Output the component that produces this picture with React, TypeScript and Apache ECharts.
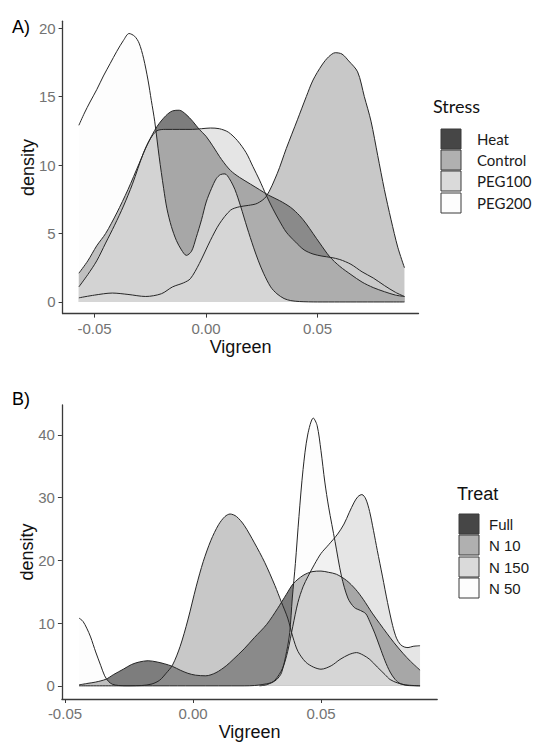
import React, { useEffect, useRef } from "react";
import * as echarts from "echarts";

type Pt = [number, number];

const FONT = "'Liberation Sans', Arial, sans-serif";
const FONT_LEG_A = "Lato, 'Liberation Sans', sans-serif";

// ---- legend / category names ----
const stressNames = ["Heat", "Control", "PEG100", "PEG200"];
const treatNames = ["Full", "N 10", "N 150", "N 50"];
// grey fill of each group (drawn with alpha 0.75, as in the ggplot original)
const fillGreys = [8, 150, 205, 252];
const FILL_ALPHA = 0.75;

// ---- tick labels ----
const xTicksA = [-0.05, 0, 0.05];
const yTicksA = [0, 5, 10, 15, 20];
const xTicksB = [-0.05, 0, 0.05];
const yTicksB = [0, 10, 20, 30, 40];

// ---- Panel A: density of Vigreen by Stress ----
const heatA: Pt[] = [
  [-0.057, 2.1], [-0.053, 3.0], [-0.049, 4.1], [-0.045, 5.0], [-0.04, 6.5], [-0.035, 8.2],
  [-0.03, 10.1], [-0.026, 11.6], [-0.022, 12.8], [-0.018, 13.6], [-0.015, 13.95], [-0.012, 14.0],
  [-0.009, 13.7], [-0.006, 13.2], [-0.003, 12.6], [0.0, 12.1], [0.003, 11.4], [0.007, 10.4],
  [0.011, 9.6], [0.015, 9.1], [0.02, 8.6], [0.024, 8.2], [0.028, 7.8], [0.033, 7.4], [0.038, 6.9],
  [0.042, 6.3], [0.045, 5.7], [0.048, 5.0], [0.051, 4.3], [0.0555, 3.3], [0.06, 2.6], [0.065, 2.0],
  [0.07, 1.45], [0.075, 1.05], [0.08, 0.75], [0.085, 0.5], [0.089, 0.4],
];
const controlA: Pt[] = [
  [-0.057, 0.3], [-0.05, 0.5], [-0.042, 0.65], [-0.035, 0.55], [-0.027, 0.4], [-0.02, 0.6],
  [-0.015, 1.1], [-0.01, 1.4], [-0.007, 1.7], [-0.003, 2.8], [0.002, 4.5], [0.006, 5.7],
  [0.011, 6.7], [0.015, 6.95], [0.019, 7.05], [0.023, 7.2], [0.027, 7.7], [0.032, 9.4],
  [0.036, 11.2], [0.041, 13.3], [0.045, 15.0], [0.048, 16.2], [0.052, 17.3], [0.055, 17.9],
  [0.058, 18.2], [0.061, 18.1], [0.064, 17.6], [0.068, 16.8], [0.071, 15.0], [0.074, 13.2],
  [0.077, 10.7], [0.08, 8.2], [0.083, 6.0], [0.086, 4.0], [0.089, 2.5],
];
const peg100A: Pt[] = [
  [-0.057, 1.1], [-0.053, 2.0], [-0.049, 3.0], [-0.045, 4.3], [-0.041, 5.6], [-0.037, 7.0],
  [-0.033, 8.6], [-0.028, 10.9], [-0.025, 11.9], [-0.022, 12.5], [-0.018, 12.6], [-0.012, 12.6],
  [-0.006, 12.6], [-0.002, 12.65], [0.002, 12.7], [0.006, 12.65], [0.01, 12.4], [0.014, 11.8],
  [0.018, 10.9], [0.021, 9.9], [0.024, 8.9], [0.027, 7.8], [0.03, 6.8], [0.033, 5.9],
  [0.036, 5.1], [0.04, 4.4], [0.044, 3.8], [0.048, 3.5], [0.052, 3.35], [0.056, 3.25],
  [0.06, 3.1], [0.065, 2.75], [0.07, 2.2], [0.075, 1.75], [0.08, 1.2], [0.085, 0.7], [0.089, 0.4],
];
const peg200A: Pt[] = [
  [-0.057, 12.9], [-0.0545, 13.8], [-0.052, 14.6], [-0.049, 15.5], [-0.046, 16.5], [-0.043, 17.4],
  [-0.04, 18.3], [-0.037, 19.1], [-0.0345, 19.6], [-0.032, 19.4], [-0.03, 18.9], [-0.028, 17.8],
  [-0.026, 16.2], [-0.0245, 14.7], [-0.023, 13.2], [-0.021, 10.6], [-0.019, 8.3], [-0.0175, 6.8],
  [-0.0155, 5.5], [-0.0133, 4.5], [-0.011, 3.8], [-0.0088, 3.4], [-0.0065, 3.7], [-0.0044, 4.7],
  [-0.002, 6.0], [0.0001, 7.3], [0.0025, 8.3], [0.0046, 9.0], [0.0065, 9.3], [0.0085, 9.35],
  [0.0105, 9.0], [0.013, 8.2], [0.0155, 7.0], [0.0185, 5.4], [0.0213, 4.0], [0.0235, 3.0],
  [0.0258, 2.1], [0.029, 1.1], [0.0318, 0.6], [0.035, 0.25], [0.038, 0.1], [0.042, 0.03],
  [0.05, 0], [0.06, 0], [0.07, 0], [0.08, 0], [0.089, 0],
];

// ---- Panel B: density of Vigreen by Treat ----
const fullB: Pt[] = [
  [-0.0445, 0.15], [-0.041, 0.4], [-0.038, 0.6], [-0.034, 1.05], [-0.031, 1.8], [-0.027, 2.7],
  [-0.024, 3.4], [-0.021, 3.8], [-0.0175, 4.0], [-0.014, 3.8], [-0.011, 3.5], [-0.008, 3.1],
  [-0.005, 2.5], [-0.002, 2.0], [0.001, 1.7], [0.005, 1.6], [0.009, 2.1], [0.013, 3.2],
  [0.0157, 4.2], [0.02, 5.9], [0.024, 7.7], [0.0288, 9.8], [0.033, 12.3], [0.0365, 14.6],
  [0.0392, 16.3], [0.043, 17.6], [0.0465, 18.2], [0.05, 18.3], [0.053, 18.1], [0.056, 17.8],
  [0.06, 16.8], [0.0635, 15.4], [0.0665, 13.8], [0.07, 11.6], [0.073, 9.9], [0.0757, 8.4],
  [0.0785, 6.9], [0.082, 5.2], [0.085, 3.9], [0.0887, 2.5],
];
const n10B: Pt[] = [
  [-0.0445, 0], [-0.03, 0], [-0.02, 0.05], [-0.016, 0.3], [-0.013, 0.9], [-0.0105, 2.0],
  [-0.008, 3.3], [-0.005, 6.3], [-0.002, 10.5], [0.0013, 15.9], [0.004, 19.8], [0.007, 23.2],
  [0.01, 25.7], [0.0125, 27.0], [0.0145, 27.4], [0.017, 27.0], [0.02, 25.6], [0.024, 22.8],
  [0.028, 19.7], [0.032, 16.0], [0.0345, 13.4], [0.037, 10.8], [0.039, 7.8], [0.041, 5.5],
  [0.044, 3.8], [0.047, 3.0], [0.05, 2.65], [0.054, 3.2], [0.0574, 4.2], [0.061, 5.0],
  [0.0639, 5.3], [0.0665, 4.9], [0.0691, 4.2], [0.072, 3.0], [0.075, 1.8], [0.077, 1.0],
  [0.08, 0.45], [0.083, 0.15], [0.0887, 0.0],
];
const n150B: Pt[] = [
  [0.026, 0], [0.029, 0.2], [0.032, 0.9], [0.035, 2.8], [0.037, 5.5], [0.039, 9.5],
  [0.041, 13.3], [0.043, 15.8], [0.045, 17.5], [0.0475, 19.4], [0.05, 21.1], [0.053, 22.5],
  [0.0565, 24.2], [0.059, 25.8], [0.061, 27.6], [0.063, 29.3], [0.0645, 30.2], [0.066, 30.5],
  [0.0675, 29.8], [0.069, 27.8], [0.0705, 24.8], [0.072, 21.6], [0.074, 17.5], [0.076, 13.3],
  [0.078, 9.6], [0.0795, 7.6], [0.081, 6.6], [0.0825, 6.2], [0.084, 6.1], [0.086, 6.3],
  [0.0887, 6.4],
];
const n50B: Pt[] = [
  [-0.0445, 10.8], [-0.043, 10.3], [-0.0415, 9.2], [-0.04, 7.8], [-0.038, 5.4], [-0.036, 3.2],
  [-0.0345, 1.6], [-0.033, 0.7], [-0.0315, 0.25], [-0.029, 0.05], [-0.025, 0], [0.0, 0],
  [0.02, 0], [0.024, 0.05], [0.027, 0.2], [0.0307, 0.5], [0.0327, 1.0], [0.0346, 2.1],
  [0.0366, 5.5], [0.0378, 8.5], [0.0388, 14.0], [0.04, 19.5], [0.0414, 27.0], [0.043, 34.5],
  [0.0448, 40.0], [0.047, 42.7], [0.0485, 41.5], [0.05, 37.5], [0.0515, 32.5], [0.053, 28.5],
  [0.0555, 23.0], [0.058, 17.5], [0.0605, 14.0], [0.063, 12.5], [0.0655, 12.0], [0.0675, 11.5],
  [0.069, 10.3], [0.071, 8.4], [0.073, 6.2], [0.075, 4.0], [0.077, 2.2], [0.079, 1.0],
  [0.081, 0.35], [0.084, 0.05], [0.0887, 0],
];

const seriesA = [heatA, controlA, peg100A, peg200A];
const seriesB = [fullB, n10B, n150B, n50B];

const rgba = (g: number, a: number) => `rgba(${g},${g},${g},${a})`;

function xAxisCfg(gridIndex: number, min: number, max: number, ticks: number[]) {
  return {
    type: "value",
    gridIndex,
    min,
    max,
    name: "Vigreen",
    nameLocation: "middle",
    nameGap: 24,
    nameMoveOverlap: false,
    nameTextStyle: { fontSize: 18, color: "#111", fontFamily: FONT, verticalAlign: "top" },
    axisLine: { show: true, onZero: false, lineStyle: { color: "#3a3a3a", width: 1.3 } },
    axisTick: { show: true, length: 4, customValues: ticks, lineStyle: { color: "#3a3a3a", width: 1 } },
    axisLabel: {
      customValues: ticks,
      formatter: (v: number) => v.toFixed(2),
      margin: 7,
      fontSize: 15,
      color: "#737373",
      fontFamily: FONT,
    },
    splitLine: { show: false },
  };
}

function yAxisCfg(gridIndex: number, min: number, max: number, ticks: number[]) {
  return {
    type: "value",
    gridIndex,
    min,
    max,
    name: "density",
    nameLocation: "middle",
    nameGap: 26,
    nameMoveOverlap: false,
    nameTextStyle: { fontSize: 18, color: "#111", fontFamily: FONT },
    axisLine: { show: true, onZero: false, lineStyle: { color: "#3a3a3a", width: 1.3 } },
    axisTick: { show: true, length: 4, customValues: ticks, lineStyle: { color: "#3a3a3a", width: 1 } },
    axisLabel: {
      customValues: ticks,
      formatter: (v: number) => String(Math.round(v)),
      margin: 7,
      fontSize: 15,
      color: "#737373",
      fontFamily: FONT,
    },
    splitLine: { show: false },
  };
}

function makeSeries(data: Pt[][], axisIndex: number) {
  return data.map((d, i) => ({
    type: "line",
    xAxisIndex: axisIndex,
    yAxisIndex: axisIndex,
    data: d,
    smooth: 0.3,
    showSymbol: false,
    symbol: "none",
    silent: true,
    lineStyle: { color: "#262626", width: 1 },
    areaStyle: { color: rgba(fillGreys[i], FILL_ALPHA) },
  }));
}

function legendGraphics(
  title: string,
  names: string[],
  titleX: number,
  titleY: number,
  keyX: number,
  keyYs: number[],
  labelX: number,
  font: string
) {
  const els: any[] = [
    {
      type: "text",
      left: titleX,
      top: titleY,
      style: { text: title, font: `18px ${font}`, fill: "#111" },
    },
  ];
  names.forEach((n, i) => {
    els.push({
      type: "rect",
      shape: { x: keyX, y: keyYs[i], width: 20, height: 20 },
      style: { fill: rgba(fillGreys[i], FILL_ALPHA), stroke: "#3a3a3a", lineWidth: 1 },
    });
    els.push({
      type: "text",
      x: labelX,
      y: keyYs[i] + 10,
      style: { text: n, font: `15px ${font}`, fill: "#1a1a1a", textVerticalAlign: "middle" },
    });
  });
  return els;
}

export default function App() {
  const ref = useRef<HTMLDivElement>(null);
  useEffect(() => {
    document.body.style.margin = "0";
    if (!ref.current) return;
    const chart = echarts.init(ref.current, null, { renderer: "svg" });
    const option: any = {
      animation: false,
      backgroundColor: "#ffffff",
      grid: [
        { left: 62.6, top: 21.2, width: 355.9, height: 292.4 },
        { left: 61.9, top: 404.9, width: 375.3, height: 295 },
      ],
      xAxis: [xAxisCfg(0, -0.0643, 0.0953, xTicksA), xAxisCfg(1, -0.0512, 0.0954, xTicksB)],
      yAxis: [yAxisCfg(0, -0.85, 20.5, yTicksA), yAxisCfg(1, -2.1, 44.8, yTicksB)],
      series: [...makeSeries(seriesA, 0), ...makeSeries(seriesB, 1)],
      graphic: [
        { type: "text", left: 12, top: 18, style: { text: "A)", font: `18px ${FONT}`, fill: "#000" } },
        { type: "text", left: 12, top: 390, style: { text: "B)", font: `18px ${FONT}`, fill: "#000" } },
        ...legendGraphics("Stress", stressNames, 433, 97, 441, [129, 150, 171, 193], 477, FONT_LEG_A),
        ...legendGraphics("Treat", treatNames, 457, 485, 459, [514, 535, 557, 578], 489, FONT),
      ],
    };
    chart.setOption(option);
    return () => chart.dispose();
  }, []);
  return <div ref={ref} style={{ width: 533, height: 742 }} />;
}
